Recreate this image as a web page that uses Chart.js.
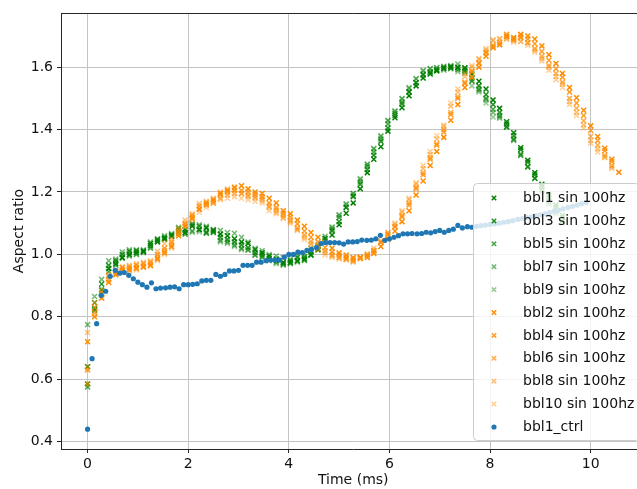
<!DOCTYPE html>
<html>
<head>
<meta charset="utf-8">
<script src="https://cdn.jsdelivr.net/npm/chart.js@4.4.1/dist/chart.umd.min.js"></script>
<style>
  html, body { margin: 0; background: #fff; overflow: hidden; }
  #wrap { width: 637px; height: 489px; overflow: hidden; }
</style>
</head>
<body>
<!-- the axes run a few pixels past the right edge of the picture, so the canvas is wider than the window -->
<div id="wrap"><canvas id="aspectChart" width="651" height="489"></canvas></div>
<script>
// Frame times (ms) for the sin 100hz runs and for the control run
const tSin = [0.00, 0.14, 0.28, 0.42, 0.56, 0.69, 0.83, 0.97, 1.11, 1.25, 1.39, 1.53, 1.67, 1.81, 1.94, 2.08,
    2.22, 2.36, 2.50, 2.64, 2.78, 2.92, 3.06, 3.19, 3.33, 3.47, 3.61, 3.75, 3.89, 4.03, 4.17, 4.31, 4.44, 4.58,
    4.72, 4.86, 5.00, 5.14, 5.28, 5.42, 5.56, 5.69, 5.83, 5.97, 6.11, 6.25, 6.39, 6.53, 6.67, 6.81, 6.94, 7.08,
    7.22, 7.36, 7.50, 7.64, 7.78, 7.92, 8.06, 8.19, 8.33, 8.47, 8.61, 8.75, 8.89, 9.03, 9.17, 9.31, 9.44, 9.58,
    9.72, 9.86, 10.00, 10.14, 10.28, 10.42, 10.56];

const tCtrl = [0.00, 0.09, 0.18, 0.27, 0.36, 0.45, 0.55, 0.64, 0.73, 0.82, 0.91,
    1.00, 1.09, 1.18, 1.27, 1.36, 1.45, 1.55, 1.64, 1.73, 1.82, 1.91,
    2.00, 2.09, 2.18, 2.27, 2.36, 2.45, 2.55, 2.64, 2.73, 2.82, 2.91,
    3.00, 3.09, 3.18, 3.27, 3.36, 3.45, 3.55, 3.64, 3.73, 3.82, 3.91,
    4.00, 4.09, 4.18, 4.27, 4.36, 4.45, 4.55, 4.64, 4.73, 4.82, 4.91,
    5.00, 5.09, 5.18, 5.27, 5.36, 5.45, 5.55, 5.64, 5.73, 5.82, 5.91,
    6.00, 6.09, 6.18, 6.27, 6.36, 6.45, 6.55, 6.64, 6.73, 6.82, 6.91,
    7.00, 7.09, 7.18, 7.27, 7.36, 7.45, 7.55, 7.64, 7.73, 7.82, 7.91,
    8.00, 8.09, 8.18, 8.27, 8.36, 8.45, 8.55, 8.64, 8.73, 8.82, 8.91,
    9.00, 9.09, 9.18, 9.27, 9.36, 9.45, 9.55, 9.64, 9.73, 9.82, 9.91];

// Aspect ratio, green runs (odd bubbles)
const bbl1 = [0.585, 0.825, 0.885, 0.955, 0.97, 0.99, 1.0, 1.005, 1.01, 1.035, 1.04, 1.05, 1.06, 1.075, 1.07, 1.09,
    1.08, 1.085, 1.075, 1.065, 1.06, 1.05, 1.04, 1.035, 1.015, 1.005, 0.995, 0.985, 0.975, 0.975, 0.98, 0.985,
    0.998, 1.015, 1.04, 1.062, 1.095, 1.132, 1.165, 1.21, 1.262, 1.305, 1.345, 1.395, 1.438, 1.47, 1.508, 1.54,
    1.565, 1.578, 1.588, 1.595, 1.6, 1.6, 1.598, 1.578, 1.555, 1.53, 1.495, 1.468, 1.425, 1.39, 1.342, 1.302,
    1.262, 1.225, 1.19, 1.158, 1.125];
const bbl3 = [0.64, 0.845, 0.905, 0.965, 0.98, 1.0, 1.01, 1.012, 1.008, 1.028, 1.048, 1.055, 1.063, 1.082, 1.078, 1.095,
    1.09, 1.07, 1.078, 1.055, 1.048, 1.04, 1.03, 1.022, 1.005, 0.998, 0.988, 0.98, 0.972, 0.98, 0.99, 0.992,
    1.008, 1.025, 1.05, 1.075, 1.105, 1.15, 1.185, 1.225, 1.272, 1.318, 1.362, 1.405, 1.445, 1.482, 1.52, 1.55,
    1.575, 1.585, 1.592, 1.6, 1.602, 1.598, 1.59, 1.565, 1.54, 1.512, 1.48, 1.455, 1.418, 1.38, 1.335, 1.295,
    1.255, 1.218, 1.182, 1.15, 1.118];
const bbl5 = [0.575, 0.82, 0.875, 0.945, 0.965, 0.988, 0.995, 1.0, 1.012, 1.02, 1.045, 1.048, 1.058, 1.068, 1.065, 1.075,
    1.078, 1.068, 1.07, 1.045, 1.04, 1.03, 1.02, 1.015, 0.998, 0.992, 0.982, 0.975, 0.968, 0.972, 0.978, 0.982,
    1.0, 1.018, 1.052, 1.08, 1.118, 1.152, 1.188, 1.232, 1.282, 1.328, 1.37, 1.418, 1.452, 1.488, 1.522, 1.55,
    1.578, 1.582, 1.59, 1.596, 1.596, 1.592, 1.585, 1.555, 1.53, 1.5, 1.465, 1.445, 1.41, 1.37, 1.322, 1.282,
    1.245, 1.208, 1.172, 1.14, 1.108];
const bbl7 = [0.775, 0.865, 0.92, 0.98, 0.985, 1.008, 1.015, 1.015, 1.015, 1.04, 1.05, 1.06, 1.067, 1.087, 1.08, 1.1,
    1.095, 1.09, 1.08, 1.077, 1.07, 1.068, 1.055, 1.04, 1.02, 1.012, 1.0, 0.995, 0.99, 0.985, 0.995, 1.0,
    1.02, 1.03, 1.058, 1.088, 1.125, 1.16, 1.195, 1.24, 1.288, 1.338, 1.378, 1.428, 1.458, 1.498, 1.532, 1.562,
    1.588, 1.595, 1.598, 1.603, 1.605, 1.61, 1.595, 1.558, 1.525, 1.495, 1.455, 1.44, 1.408, 1.365, 1.318, 1.28,
    1.243, 1.205, 1.165, 1.135, 1.105];
const bbl9 = [0.64, 0.83, 0.89, 0.955, 0.975, 0.99, 1.005, 1.008, 1.005, 1.025, 1.042, 1.052, 1.057, 1.072, 1.07, 1.07,
    1.072, 1.075, 1.07, 1.04, 1.035, 1.025, 1.015, 1.013, 0.997, 0.99, 0.98, 0.97, 0.965, 0.97, 0.975, 0.98,
    0.997, 1.015, 1.045, 1.085, 1.128, 1.162, 1.195, 1.243, 1.29, 1.34, 1.38, 1.43, 1.46, 1.5, 1.535, 1.564,
    1.59, 1.596, 1.598, 1.59, 1.595, 1.585, 1.58, 1.54, 1.52, 1.485, 1.44, 1.436, 1.407, 1.368, 1.317, 1.28,
    1.243, 1.2, 1.16, 1.13, 1.1];

// Aspect ratio, orange runs (even bubbles)
const bbl2 = [0.72, 0.8, 0.86, 0.91, 0.935, 0.948, 0.95, 0.955, 0.96, 0.965, 0.985, 1.005, 1.025, 1.06, 1.09, 1.115,
    1.145, 1.165, 1.175, 1.195, 1.205, 1.215, 1.22, 1.21, 1.2, 1.195, 1.18, 1.165, 1.14, 1.13, 1.11, 1.09,
    1.07, 1.055, 1.038, 1.02, 1.005, 0.998, 0.99, 0.988, 0.99, 1.003, 1.025, 1.048, 1.075, 1.105, 1.14, 1.19,
    1.235, 1.285, 1.33, 1.375, 1.43, 1.48, 1.535, 1.568, 1.6, 1.635, 1.662, 1.672, 1.698, 1.695, 1.705, 1.7,
    1.69, 1.668, 1.64, 1.612, 1.58, 1.535, 1.502, 1.462, 1.412, 1.378, 1.34, 1.305, 1.263];
const bbl4 = [0.63, 0.83, 0.875, 0.93, 0.945, 0.958, 0.96, 0.965, 0.97, 0.975, 1.0, 1.02, 1.04, 1.075, 1.1, 1.125,
    1.155, 1.16, 1.17, 1.19, 1.2, 1.205, 1.205, 1.2, 1.192, 1.185, 1.165, 1.15, 1.132, 1.12, 1.098, 1.075,
    1.055, 1.04, 1.022, 1.008, 0.998, 0.99, 0.985, 0.99, 0.998, 1.012, 1.038, 1.062, 1.088, 1.12, 1.158, 1.21,
    1.255, 1.305, 1.35, 1.392, 1.448, 1.5, 1.548, 1.585, 1.612, 1.648, 1.67, 1.68, 1.705, 1.69, 1.695, 1.69,
    1.675, 1.65, 1.622, 1.595, 1.568, 1.52, 1.485, 1.445, 1.398, 1.365, 1.332, 1.298];
const bbl6 = [0.585, 0.815, 0.87, 0.92, 0.94, 0.952, 0.955, 0.958, 0.962, 0.968, 0.99, 1.012, 1.032, 1.068, 1.095, 1.118,
    1.145, 1.158, 1.165, 1.18, 1.19, 1.195, 1.195, 1.19, 1.185, 1.178, 1.155, 1.142, 1.125, 1.11, 1.085, 1.062,
    1.042, 1.028, 1.012, 0.998, 0.99, 0.985, 0.98, 0.99, 0.998, 1.012, 1.04, 1.065, 1.09, 1.125, 1.165, 1.215,
    1.262, 1.31, 1.355, 1.4, 1.455, 1.505, 1.552, 1.588, 1.615, 1.645, 1.665, 1.672, 1.69, 1.688, 1.682, 1.678,
    1.66, 1.635, 1.605, 1.58, 1.552, 1.5, 1.468, 1.428, 1.378, 1.35, 1.318, 1.285];
const bbl8 = [0.75, 0.845, 0.885, 0.935, 0.95, 0.96, 0.965, 0.97, 0.975, 0.98, 1.01, 1.035, 1.05, 1.083, 1.11, 1.13,
    1.163, 1.17, 1.18, 1.2, 1.21, 1.21, 1.195, 1.185, 1.18, 1.172, 1.15, 1.135, 1.118, 1.105, 1.08, 1.055,
    1.035, 1.02, 1.005, 0.995, 0.99, 0.985, 0.978, 0.992, 1.002, 1.02, 1.04, 1.07, 1.1, 1.135, 1.175, 1.225,
    1.275, 1.32, 1.37, 1.41, 1.475, 1.52, 1.57, 1.6, 1.625, 1.655, 1.685, 1.69, 1.7, 1.685, 1.7, 1.678,
    1.655, 1.628, 1.6, 1.57, 1.545, 1.49, 1.455, 1.415, 1.365, 1.338, 1.312, 1.28];
const bbl10 = [0.64, 0.81, 0.86, 0.915, 0.935, 0.948, 0.945, 0.95, 0.958, 0.962, 0.98, 1.0, 1.02, 1.065, 1.09, 1.11,
    1.135, 1.15, 1.163, 1.175, 1.18, 1.185, 1.18, 1.175, 1.17, 1.165, 1.14, 1.13, 1.115, 1.1, 1.077, 1.048,
    1.03, 1.015, 0.998, 0.99, 0.985, 0.982, 0.975, 0.985, 0.995, 1.008, 1.045, 1.07, 1.095, 1.14, 1.18, 1.23,
    1.285, 1.33, 1.38, 1.415, 1.485, 1.53, 1.58, 1.605, 1.628, 1.66, 1.688, 1.692, 1.695, 1.68, 1.692, 1.67,
    1.648, 1.62, 1.59, 1.56, 1.535, 1.48, 1.445, 1.405, 1.356, 1.328, 1.31, 1.275];

// Control run
const bbl1Ctrl = [0.44, 0.666, 0.778, 0.869, 0.882, 0.93, 0.949, 0.94, 0.942, 0.933, 0.922,
    0.911, 0.903, 0.895, 0.909, 0.89, 0.892, 0.893, 0.895, 0.896, 0.89, 0.903,
    0.903, 0.904, 0.906, 0.915, 0.917, 0.917, 0.936, 0.93, 0.936, 0.947, 0.947,
    0.949, 0.965, 0.965, 0.965, 0.975, 0.975, 0.98, 0.982, 0.982, 0.982, 0.991,
    1.0, 1.0, 1.007, 1.006, 1.013, 1.016, 1.022, 1.035, 1.038, 1.038, 1.038,
    1.037, 1.033, 1.04, 1.04, 1.041, 1.046, 1.045, 1.046, 1.05, 1.061, 1.045,
    1.05, 1.055, 1.06, 1.066, 1.066, 1.067, 1.066, 1.067, 1.071, 1.069, 1.073,
    1.077, 1.071, 1.077, 1.081, 1.093, 1.085, 1.089, 1.087, 1.09, 1.092, 1.094,
    1.096, 1.098, 1.1, 1.103, 1.105, 1.108, 1.112, 1.115, 1.118, 1.12, 1.124,
    1.127, 1.13, 1.134, 1.138, 1.142, 1.146, 1.15, 1.154, 1.158, 1.162, 1.166];

const xTicks = [0, 2, 4, 6, 8, 10];
const yTicks = [0.4, 0.6, 0.8, 1.0, 1.2, 1.4, 1.6];

function pairUp(times, values) {
    return values.map((v, i) => ({ x: times[i], y: v }));
}

function crossSet(label, values, rgb, alpha, order) {
    return {
        label: label,
        data: pairUp(tSin, values),
        pointStyle: 'crossRot',
        pointRadius: 3.5,
        pointBorderWidth: 1.5,
        borderColor: `rgba(${rgb}, ${alpha})`,
        backgroundColor: `rgba(${rgb}, ${alpha})`,
        order: order
    };
}

const GREEN = '0, 128, 0';
const ORANGE = '255, 140, 0';

const datasets = [
    crossSet('bbl1 sin 100hz', bbl1, GREEN, 1, 10),
    crossSet('bbl3 sin 100hz', bbl3, GREEN, 0.85, 9),
    crossSet('bbl5 sin 100hz', bbl5, GREEN, 0.7, 8),
    crossSet('bbl7 sin 100hz', bbl7, GREEN, 0.55, 7),
    crossSet('bbl9 sin 100hz', bbl9, GREEN, 0.42, 6),
    crossSet('bbl2 sin 100hz', bbl2, ORANGE, 1, 5),
    crossSet('bbl4 sin 100hz', bbl4, ORANGE, 0.85, 4),
    crossSet('bbl6 sin 100hz', bbl6, ORANGE, 0.7, 3),
    crossSet('bbl8 sin 100hz', bbl8, ORANGE, 0.55, 2),
    crossSet('bbl10 sin 100hz', bbl10, ORANGE, 0.42, 1),
    {
        label: 'bbl1_ctrl',
        data: pairUp(tCtrl, bbl1Ctrl),
        pointStyle: 'circle',
        pointRadius: 2.6,
        pointBorderWidth: 0,
        borderColor: '#1f77b4',
        backgroundColor: '#1f77b4',
        order: 0
    }
];

// top spine + legend box drawn inside the axes, like matplotlib
const frameAndLegend = {
    id: 'frameAndLegend',
    afterDraw(chart) {
        const ctx = chart.ctx;
        const area = chart.chartArea;
        ctx.save();
        ctx.strokeStyle = '#262626';
        ctx.lineWidth = 1;
        ctx.beginPath();
        ctx.moveTo(area.left, Math.round(area.top) + 0.5);
        ctx.lineTo(area.right, Math.round(area.top) + 0.5);
        ctx.stroke();

        const bx = 473.5, by = 183.5, bw = 166, bh = 257;
        ctx.beginPath();
        ctx.roundRect(bx, by, bw, bh, 4);
        ctx.fillStyle = 'rgba(255, 255, 255, 0.8)';
        ctx.fill();
        ctx.strokeStyle = '#cccccc';
        ctx.stroke();

        ctx.font = '14px "DejaVu Sans"';
        ctx.textBaseline = 'middle';
        ctx.textAlign = 'left';
        chart.data.datasets.forEach((ds, i) => {
            const y = 198 + i * 22.9;
            const mx = 494;
            if (ds.pointStyle === 'crossRot') {
                const r = 2.2;
                ctx.strokeStyle = ds.borderColor;
                ctx.lineWidth = 1.5;
                ctx.beginPath();
                ctx.moveTo(mx - r, y - r);
                ctx.lineTo(mx + r, y + r);
                ctx.moveTo(mx - r, y + r);
                ctx.lineTo(mx + r, y - r);
                ctx.stroke();
            } else {
                ctx.fillStyle = ds.backgroundColor;
                ctx.beginPath();
                ctx.arc(mx, y, 2.6, 0, Math.PI * 2);
                ctx.fill();
            }
            ctx.fillStyle = '#111';
            ctx.fillText(ds.label, 523, y + 0.5);
        });
        ctx.restore();
    }
};

Chart.defaults.font.family = '"DejaVu Sans", sans-serif';
Chart.defaults.font.size = 14;
Chart.defaults.color = '#111';

new Chart(document.getElementById('aspectChart'), {
    type: 'scatter',
    data: { datasets: datasets },
    options: {
        responsive: false,
        animation: false,
        devicePixelRatio: 1,
        layout: { padding: { left: 0, right: 0, top: 13, bottom: 0 } },
        plugins: {
            legend: { display: false },
            tooltip: { enabled: false }
        },
        scales: {
            x: {
                type: 'linear',
                min: -0.528,
                max: 11.09,
                afterBuildTicks: scale => { scale.ticks = xTicks.map(v => ({ value: v })); },
                afterFit: scale => { scale.height = 40; },
                ticks: {
                    padding: 3,
                    font: { size: 14 },
                    callback: v => String(v)
                },
                grid: { color: '#c4c4c4', lineWidth: 1, tickColor: '#262626', tickLength: 4 },
                border: { display: true, color: '#262626', width: 1 },
                title: { display: true, text: 'Time (ms)', font: { size: 14 }, padding: { top: 0, bottom: 0 } }
            },
            y: {
                type: 'linear',
                min: 0.3765,
                max: 1.7735,
                afterBuildTicks: scale => { scale.ticks = yTicks.map(v => ({ value: v })); },
                afterFit: scale => { scale.width = 61; },
                ticks: {
                    padding: 4,
                    font: { size: 14 },
                    callback: v => v.toFixed(1)
                },
                grid: { color: '#c4c4c4', lineWidth: 1, tickColor: '#262626', tickLength: 4 },
                border: { display: true, color: '#262626', width: 1 },
                title: { display: true, text: 'Aspect ratio', font: { size: 14 }, padding: { top: 11, bottom: 0 } }
            }
        }
    },
    plugins: [frameAndLegend]
});
</script>
</body>
</html>
